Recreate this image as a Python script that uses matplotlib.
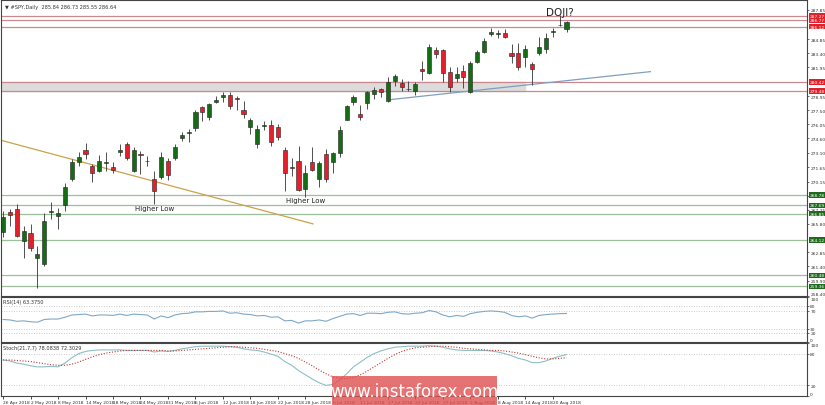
import numpy as np
import matplotlib
matplotlib.use("Agg")
import matplotlib.pyplot as plt
from matplotlib.patches import Rectangle
from matplotlib.transforms import blended_transform_factory

# SPY daily bars, 26 Apr 2018 .. 22 Aug 2018
opens = [264.97, 267.02, 267.33, 264.04, 264.86, 262.30, 261.68, 267.02, 266.61, 267.74,
         270.41, 272.15, 273.38, 271.74, 271.23, 272.05, 271.64, 273.18, 274.00, 271.23,
         272.97, 272.25, 270.41, 270.61, 272.25, 272.56, 274.61, 275.13, 275.70, 277.85,
         276.80, 278.40, 278.85, 279.13, 278.80, 277.50, 275.80, 274.00, 275.90, 275.95,
         275.74, 273.38, 271.64, 272.25, 269.38, 272.15, 270.41, 272.97, 272.20, 273.15,
         276.55, 278.40, 277.15, 278.30, 279.15, 279.65, 278.45, 280.55, 280.30, 279.75,
         279.45, 281.80, 281.30, 283.70, 283.70, 281.50, 280.85, 281.58, 279.43, 282.51,
         283.54, 285.38, 285.40, 285.49, 283.44, 283.44, 283.03, 282.31, 283.44, 283.85,
         285.60, 286.28, 285.84]
highs = [267.12, 267.33, 267.84, 265.58, 265.79, 263.53, 266.92, 268.04, 267.43, 270.00,
         272.46, 273.18, 274.10, 271.94, 272.87, 273.18, 272.15, 274.00, 274.20, 273.69,
         273.28, 272.77, 271.23, 273.18, 272.56, 274.00, 275.23, 275.54, 277.50, 277.95,
         278.30, 279.00, 279.35, 279.43, 278.95, 278.45, 276.70, 275.95, 276.45, 276.46,
         276.05, 273.69, 272.56, 273.79, 271.84, 273.69, 272.25, 273.48, 273.25, 275.85,
         278.00, 279.05, 278.05, 279.45, 279.95, 279.80, 280.90, 281.20, 280.75, 280.50,
         280.45, 282.55, 284.35, 284.05, 283.80, 282.00, 281.95, 282.15, 282.62, 283.75,
         284.98, 286.00, 285.80, 285.90, 284.36, 284.46, 284.26, 282.51, 285.08, 285.49,
         286.00, 287.34, 286.73]
lows = [264.45, 265.58, 264.45, 262.30, 263.02, 259.22, 261.48, 266.30, 265.27, 267.12,
        270.20, 271.74, 272.46, 270.10, 271.12, 271.23, 271.02, 272.77, 272.36, 271.12,
        270.92, 271.74, 267.84, 270.41, 270.30, 272.36, 274.30, 274.20, 275.40, 276.40,
        276.50, 278.30, 278.40, 277.60, 277.50, 276.70, 275.10, 273.59, 275.45, 273.79,
        274.41, 269.17, 270.71, 269.17, 268.56, 271.23, 269.58, 270.10, 271.00, 272.70,
        276.50, 278.05, 276.50, 277.60, 278.65, 278.85, 278.40, 280.05, 279.45, 279.50,
        279.05, 280.65, 281.25, 282.85, 280.40, 279.40, 280.45, 279.85, 279.33, 282.41,
        283.44, 285.18, 284.98, 284.98, 282.41, 281.69, 282.00, 280.15, 283.23, 283.44,
        285.08, 286.21, 285.55]
closes = [266.51, 266.71, 264.55, 265.07, 263.32, 262.71, 266.09, 267.10, 266.92, 269.58,
          272.15, 272.66, 272.97, 271.02, 272.25, 272.15, 271.33, 273.38, 272.56, 273.38,
          272.87, 272.30, 269.17, 272.66, 270.82, 273.69, 274.92, 275.23, 277.35, 277.30,
          278.15, 278.55, 279.05, 277.90, 278.70, 277.10, 276.50, 275.54, 276.00, 274.20,
          274.71, 271.02, 271.60, 269.28, 271.02, 271.33, 272.05, 270.41, 273.15, 275.45,
          277.90, 278.90, 276.85, 279.35, 279.60, 279.35, 280.45, 281.05, 279.95, 279.65,
          280.20, 281.60, 284.00, 283.35, 281.40, 279.95, 281.25, 280.90, 282.41, 283.54,
          284.67, 285.54, 285.44, 285.08, 283.13, 282.00, 283.85, 281.80, 284.05, 284.98,
          285.70, 286.33, 286.64]

rsi = [50, 49, 46, 47, 45, 44, 50, 51, 51, 55, 60, 61, 62, 58, 60, 60, 59, 62, 59, 62,
       61, 60, 51, 58, 54, 60, 63, 64, 67, 67, 68, 68, 69, 64, 65, 62, 61, 58, 59, 55,
       56, 47, 48, 42, 47, 47, 49, 46, 52, 57, 62, 63, 59, 64, 64, 63, 66, 67, 63, 62,
       64, 65, 70, 67, 60, 56, 59, 57, 63, 66, 68, 69, 68, 66, 59, 56, 58, 53, 59, 61,
       62, 63, 63.375]
stoch_main = [68, 66, 62, 60, 57, 55, 55, 56, 55, 62, 72, 80, 84, 86, 87, 87, 87, 87, 86, 86,
              86, 86, 83, 85, 84, 86, 89, 91, 93, 94, 94, 94, 94, 93, 92, 89, 87, 86, 83, 79,
              75, 65, 58, 48, 40, 32, 25, 20, 22, 30, 42, 55, 64, 73, 80, 85, 89, 92, 93, 94,
              94, 94, 95, 94, 92, 89, 87, 86, 86, 86, 86, 85, 83, 80, 76, 71, 68, 63, 63, 66,
              71, 75, 78.08]
stoch_signal = [68, 68, 67, 66, 65, 63, 61, 59, 58, 58, 60, 64, 69, 74, 78, 81, 83, 85, 86, 86,
                86, 86, 86, 86, 85, 85, 86, 87, 88, 89, 90, 91, 92, 93, 93, 92, 91, 90, 88, 86,
                84, 80, 76, 71, 64, 57, 49, 42, 36, 33, 33, 35, 40, 47, 55, 63, 71, 78, 84, 88,
                91, 92, 93, 94, 94, 93, 92, 90, 89, 88, 87, 86, 86, 85, 83, 81, 78, 75, 72, 70,
                70, 71, 72.30]

date_labels = ['26 Apr 2018', '2 May 2018', '8 May 2018', '14 May 2018', '18 May 2018',
               '24 May 2018', '31 May 2018', '6 Jun 2018', '12 Jun 2018', '18 Jun 2018',
               '22 Jun 2018', '28 Jun 2018', '5 Jul 2018', '11 Jul 2018', '17 Jul 2018',
               '23 Jul 2018', '27 Jul 2018', '2 Aug 2018', '8 Aug 2018', '14 Aug 2018',
               '20 Aug 2018']
price_ticks = [287.85, 284.85, 283.40, 281.95, 278.95, 277.50, 276.05, 274.60, 273.10,
               271.65, 270.15, 268.70, 267.25, 265.80, 262.85, 261.40, 259.90, 258.40]
resistance = [287.27, 286.77, 286.12, 280.42, 279.48]
support = [268.78, 267.69, 266.85, 264.12, 260.48, 259.36]

W, H = 825, 406
fig = plt.figure(figsize=(W / 100, H / 100), dpi=100)
fig.patch.set_facecolor('white')

def px_axes(x0, y0, x1, y1):
    return fig.add_axes([x0 / W, 1 - y1 / H, (x1 - x0) / W, (y1 - y0) / H])

ax = px_axes(1, 1, 807, 297)
ax_rsi = px_axes(1, 298, 807, 343)
ax_st = px_axes(1, 344, 807, 397)

n = len(closes)
x = np.arange(n)
xlim = (-0.3, 117)
green, red = '#146c14', '#e5202a'
fs = 3.2

for a in (ax, ax_rsi, ax_st):
    a.set_xlim(*xlim)
    a.yaxis.tick_right()
    a.tick_params(axis='y', labelsize=fs, length=1.5, width=0.5, pad=0.8, colors='#333333')
    a.tick_params(axis='x', length=0)
    a.set_xticks([])
    for s in a.spines.values():
        s.set_linewidth(0.8)
        s.set_color('#444444')

# price panel
ax.set_ylim(258.35, 288.88)
ax.set_yticks(price_ticks)
ax.set_yticklabels(['%.2f' % v for v in price_ticks])
ax.get_yticklabels()[-1].set_va('bottom')

ax.fill_between([xlim[0], 76], 279.48, 280.42, color='#dcdcdc', zorder=0)
for lv in resistance:
    ax.axhline(lv, color='#c98a8f', lw=0.9, zorder=1)
for lv in support:
    ax.axhline(lv, color='#9cbf9c', lw=0.9, zorder=1)

ax.plot([-0.3, 45.1], [274.41, 265.79], color='#c9a349', lw=0.9, zorder=2)
ax.plot([56.4, 94.2], [278.61, 281.49], color='#7f9fbf', lw=0.9, zorder=2)

o = np.array(opens); c = np.array(closes)
up = c >= o
ax.vlines(x, lows, highs, color='#333333', lw=0.6, zorder=3)
body = np.maximum(np.abs(c - o), 0.04)
ax.bar(x, body, bottom=np.minimum(o, c), width=0.6,
       color=np.where(up, green, red), edgecolor='#222222', linewidth=0.4, zorder=4)

trans = blended_transform_factory(ax.transAxes, ax.transData)
for lv in resistance:
    ax.text(1.003, lv, '%.2f' % lv, transform=trans, fontsize=fs, color='white',
            va='center', ha='left', zorder=6,
            bbox=dict(boxstyle='square,pad=0.15', fc='#e0202a', ec='none'))
for lv in support:
    ax.text(1.003, lv, '%.2f' % lv, transform=trans, fontsize=fs, color='white',
            va='center', ha='left', zorder=6,
            bbox=dict(boxstyle='square,pad=0.15', fc='#1e6b1e', ec='none'))

ax.text(22, 267.43, 'Higher Low', fontsize=5, ha='center', va='center', color='#222222')
ax.text(44, 268.25, 'Higher Low', fontsize=5, ha='center', va='center', color='#222222')
ax.text(81, 287.64, 'DOJI?', fontsize=7.5, ha='center', va='center', color='#222222')
ax.text(0.005, 0.985, '\u25bc #SPY,Daily  285.84 286.73 285.55 286.64', transform=ax.transAxes,
        fontsize=3.6, va='top', ha='left', color='#333333')

# RSI panel
ax_rsi.set_ylim(0, 100)
ax_rsi.set_yticks([0, 20, 30, 70, 80, 100])
ax_rsi.set_yticklabels(['0', '20', '30', '70', '80', '100'])
for lv in (20, 30, 70, 80):
    ax_rsi.axhline(lv, color='#bbbbbb', lw=0.6, ls=(0, (1, 2)))
ax_rsi.plot(x, rsi, color='#7fa8c8', lw=0.8)
ax_rsi.text(0.003, 0.95, 'RSI(14) 63.3750', transform=ax_rsi.transAxes, fontsize=3.6,
            va='top', ha='left', color='#333333')

# Stochastic panel
ax_st.set_ylim(0, 100)
ax_st.set_yticks([0, 20, 80, 100])
ax_st.set_yticklabels(['0', '20', '80', '100'])
for lv in (20, 80):
    ax_st.axhline(lv, color='#bbbbbb', lw=0.6, ls=(0, (1, 2)))
ax_st.plot(x, stoch_main, color='#8dbfc6', lw=0.8)
ax_st.plot(x, stoch_signal, color='#c0392b', lw=0.8, ls=(0, (1, 1.5)))
ax_st.text(0.003, 0.96, 'Stoch(21,7,7) 78.0838 72.3029', transform=ax_st.transAxes,
           fontsize=3.6, va='top', ha='left', color='#333333')

# keep the edge labels of the sub panels inside their own panel
for a in (ax_rsi, ax_st):
    labels = a.get_yticklabels()
    labels[0].set_va('bottom')
    labels[-1].set_va('top')

ax_st.set_xticks(np.arange(0, n, 4))
ax_st.set_xticklabels(date_labels, fontsize=fs, ha='left', color='#333333')
ax_st.tick_params(axis='x', length=2, width=0.5, pad=1)

# watermark
fig.patches.append(Rectangle((332 / W, 1 - 406 / H), 165 / W, 29 / H, transform=fig.transFigure,
                             facecolor='#e05050', alpha=0.8, edgecolor='none', zorder=10))
fig.text(414 / W, 1 - 392 / H, 'www.instaforex.com', fontsize=12, color='white',
         ha='center', va='center', zorder=11)

fig.savefig('out.png', dpi=100, facecolor='white')
